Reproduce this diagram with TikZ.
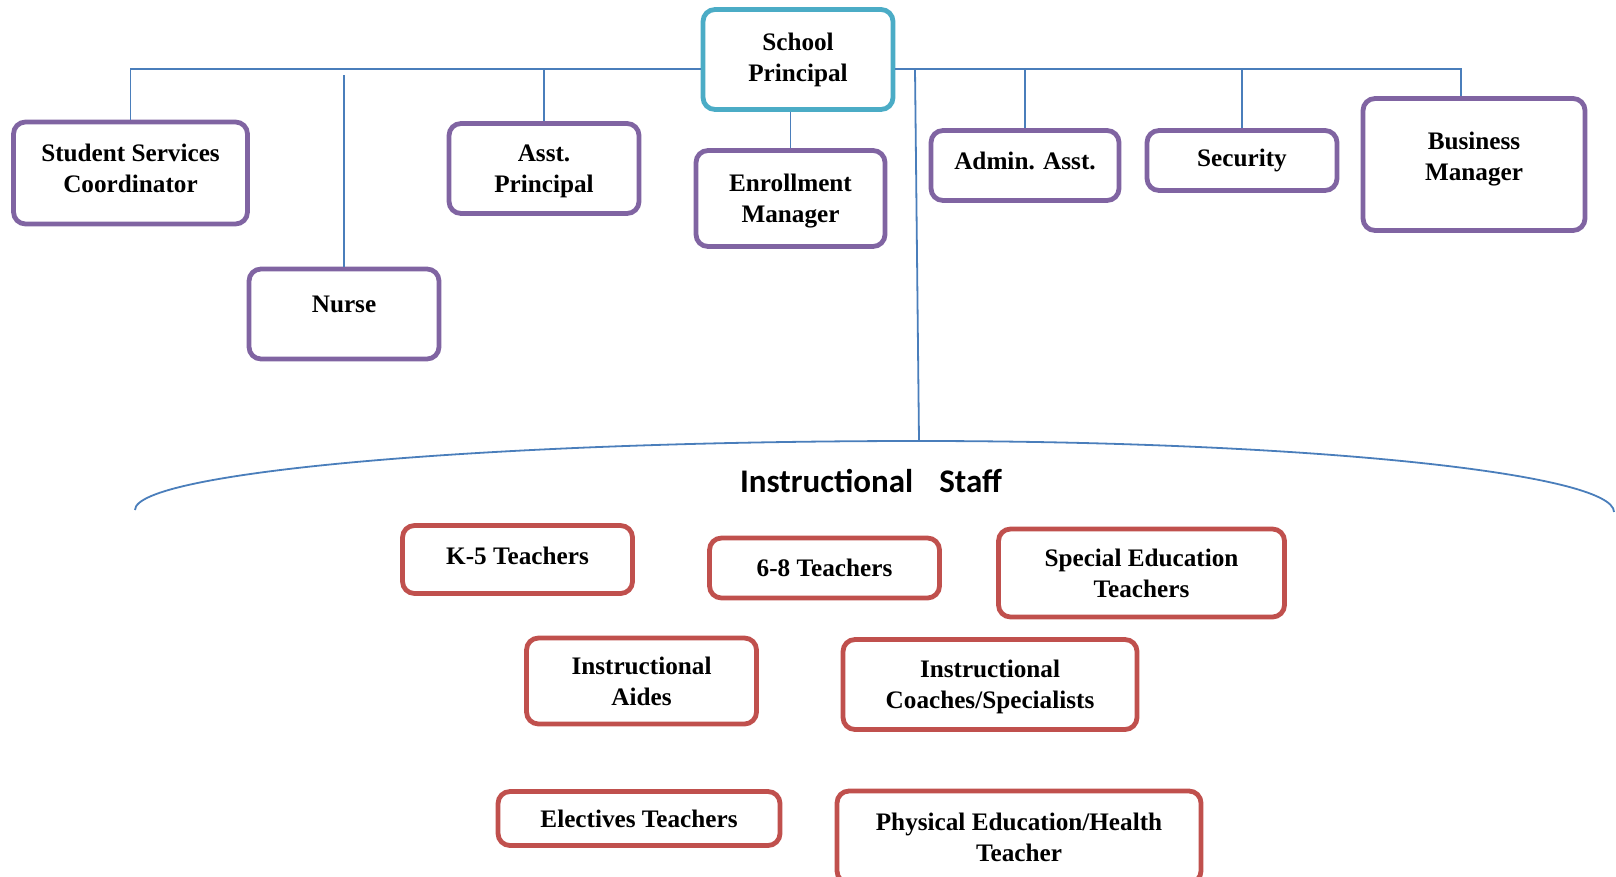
\documentclass[tikz,border=0pt]{standalone}
\usepackage{fontspec}
\setmainfont{Liberation Serif}
\newfontfamily\staffont{Carlito}
\definecolor{boxpurple}{HTML}{8064A2}
\definecolor{boxteal}{HTML}{4BACC6}
\definecolor{boxred}{HTML}{C0504D}
\definecolor{linkblue}{HTML}{4A7EBB}

\begin{document}
\begin{tikzpicture}[x=0.5pt,y=0.5pt,yscale=-1,
	box/.style={draw=boxpurple,line width=2.4pt,rounded corners=6pt,fill=white,align=center,inner sep=0pt,font=\fontsize{12.6}{15.5}\selectfont\bfseries},
	head/.style={box,draw=boxteal},
	staffbox/.style={box,draw=boxred},
	link/.style={draw=linkblue,line width=0.9pt},
	staff/.style={font=\staffont\fontsize{16.5}{20}\selectfont\bfseries}]
	\useasboundingbox (0,0) rectangle (1616,877);
	\node[head, minimum width=95pt, minimum height=50pt] (sp) at (798,59.5) {School\\Principal};
	\node[box, minimum width=117pt, minimum height=51pt, text depth=5pt] (ssc) at (130.5,173) {Student Services\\Coordinator};
	\node[box, minimum width=95pt, minimum height=45pt, text depth=10pt] (nurse) at (344,314) {Nurse};
	\node[box, minimum width=95pt, minimum height=45pt, text depth=0pt] (asst) at (544,168.5) {Asst.\\Principal};
	\node[box, minimum width=94.5pt, minimum height=48pt, text depth=0pt] (em) at (790.5,198.5) {Enrollment\\Manager};
	\node[box, minimum width=94pt, minimum height=35pt, text depth=5pt] (admin) at (1025,165.5) {Admin. Asst.};
	\node[box, minimum width=95pt, minimum height=30pt] (sec) at (1242,160.5) {Security};
	\node[box, minimum width=111pt, minimum height=66pt, text depth=8pt] (bm) at (1474,164.5) {Business\\Manager};
	\node[staff] (stafflbl) at (871,481) {Instructional\hspace{13pt}Staff};
	\node[staffbox, minimum width=115pt, minimum height=34pt, text depth=4pt] (k5) at (517.5,559.5) {K-5 Teachers};
	\node[staffbox, minimum width=115pt, minimum height=30pt] (t68) at (824.5,568) {6-8 Teachers};
	\node[staffbox, minimum width=143pt, minimum height=44pt] (sped) at (1141.5,573) {Special Education\\Teachers};
	\node[staffbox, minimum width=115pt, minimum height=43pt] (aides) at (641.5,681) {Instructional\\Aides};
	\node[staffbox, minimum width=147pt, minimum height=45pt, text depth=0pt] (coach) at (990,684.5) {Instructional\\Coaches/Specialists};
	\node[staffbox, minimum width=141pt, minimum height=27pt] (elec) at (639,818.5) {Electives Teachers};
	\node[staffbox, minimum width=182pt, minimum height=46pt] (pe) at (1019,837) {Physical Education/Health\\Teacher};
	\coordinate (bus) at (798,69);
	\coordinate (rbus) at (1461,69);
	\coordinate (nursetop) at (344,75);
	\coordinate (staffbus) at (915,69);
	\coordinate (stafftop) at (919,441);
	\draw[link] (ssc.north) |- (sp.west |- bus);
	\draw[link] (asst.north) -- (asst.north |- bus);
	\draw[link] (nurse.north) -- (nursetop);
	\draw[link] (em.north) -- (em.north |- sp.south);
	\draw[link] (sp.east |- bus) -- (rbus) -- (rbus |- bm.north);
	\draw[link] (admin.north) -- (admin.north |- bus);
	\draw[link] (sec.north) -- (sec.north |- bus);
	\draw[link] (staffbus) -- (stafftop);
	\draw[link] (135,510) .. controls (135,472) and (486,441) .. (stafftop) .. controls (1303,441) and (1614,473) .. (1614,512);
\end{tikzpicture}
\end{document}
